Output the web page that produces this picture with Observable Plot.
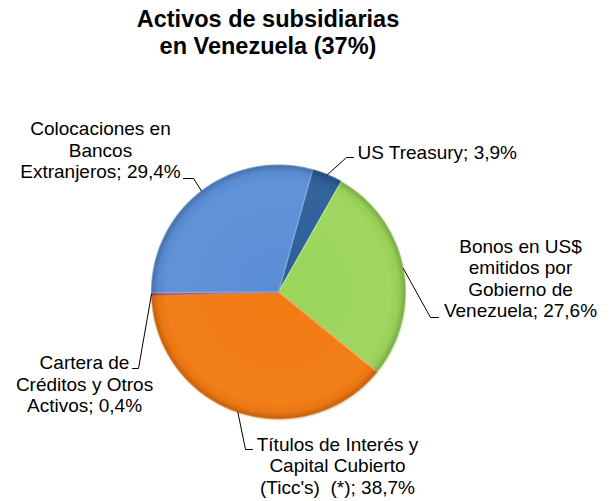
<!DOCTYPE html>
<html>
<head>
<meta charset="utf-8">
<script src="https://cdn.jsdelivr.net/npm/d3@7"></script>
<script src="https://cdn.jsdelivr.net/npm/@observablehq/plot@0.6"></script>
<style>
  html, body { margin: 0; padding: 0; background: #fff; }
  #wrap { width: 614px; height: 501px; position: relative; overflow: hidden; }
  #title { width: 536px; height: 60px; box-sizing: border-box; padding-top: 6.4px;
    text-align: center; font: bold 23.5px "Liberation Sans", Arial, sans-serif; line-height: 27px; color: #000; }
  svg text { white-space: pre; }
</style>
</head>
<body>
<div id="wrap">
  <div id="title">Activos de subsidiarias<br>en Venezuela (37%)</div>
  <div id="chart"></div>
</div>
<script>
// ---- data ----
const categories = [
  "US Treasury",
  "Bonos en US$ emitidos por Gobierno de Venezuela",
  "Títulos de Interés y Capital Cubierto (Ticc's) (*)",
  "Cartera de Créditos y Otros Activos",
  "Colocaciones en Bancos Extranjeros"
];
const values = [3.9, 27.6, 38.7, 0.4, 29.4];
const valueLabels = ["3,9%", "27,6%", "38,7%", "0,4%", "29,4%"];
const labelTexts = [
  "US Treasury; 3,9%",
  "Bonos en US$\nemitidos por\nGobierno de\nVenezuela; 27,6%",
  "Títulos de Interés y\nCapital Cubierto\n(Ticc's)  (*); 38,7%",
  "Cartera de\nCréditos y Otros\nActivos; 0,4%",
  "Colocaciones en\nBancos\nExtranjeros; 29,4%"
];
const colors = ["#2D5E99", "#9BD55A", "#F27A12", "#B8484A", "#5A8ED5"];
const rimColors = ["#4C7CB8", "#B5E884", "#F9A25A", "#D06A66", "#7FA9E2"];

// ---- layout (pixels) ----
const W = 614, H = 441;
const cx = 278, cy = 231.5, R = 127;
const startDeg = 15.6;
// label anchor, elbow and end of leader for each slice
const labelLayout = [
  {x: 357, y: 98.3, anchor: "start", ex: 346, ey: 97, tx: 353},
  {x: 520, y: 256.7, anchor: "middle", ex: 430, ey: 257, tx: 438},
  {x: 337, y: 433.3, anchor: "middle", ex: 245, ey: 389, tx: 252},
  {x: 84, y: 351.5, anchor: "middle", ex: 138, ey: 308, tx: 132},
  {x: 100, y: 117.5, anchor: "middle", ex: 193, ey: 118, tx: 183}
];

const pie = d3.pie().sort(null).value(d => d)
  .startAngle(startDeg * Math.PI / 180)
  .endAngle(startDeg * Math.PI / 180 + 2 * Math.PI);
const arcs = pie(values);

const slicePts = [];
arcs.forEach((a, i) => {
  slicePts.push({k: i, x: cx, y: cy});
  const n = Math.max(2, Math.ceil((a.endAngle - a.startAngle) / (Math.PI / 360)));
  for (let j = 0; j <= n; j++) {
    const t = a.startAngle + (a.endAngle - a.startAngle) * j / n;
    slicePts.push({k: i, x: cx + R * Math.sin(t), y: cy - R * Math.cos(t)});
  }
  slicePts.push({k: i, x: cx, y: cy});
});

const leaderPts = [];
arcs.forEach((a, i) => {
  const m = (a.startAngle + a.endAngle) / 2;
  const L = labelLayout[i];
  leaderPts.push({k: i, x: cx + R * Math.sin(m), y: cy - R * Math.cos(m)});
  leaderPts.push({k: i, x: L.ex, y: L.ey});
  leaderPts.push({k: i, x: L.tx, y: L.ey});
});

const labels = labelTexts.map((t, i) => ({text: t, ...labelLayout[i]}));

const svg = Plot.plot({
  width: W, height: H,
  margin: 0,
  x: {domain: [0, W], range: [0, W], axis: null},
  y: {domain: [0, H], range: [0, H], axis: null},
  style: {fontFamily: "'Liberation Sans', Arial, sans-serif", background: "transparent"},
  marks: [
    // subtle shadow
    Plot.dot([{x: cx + 1.5, y: cy + 2}], {x: "x", y: "y", r: R + 1, fill: "url(#shadow)", stroke: "none"}),
    Plot.line(slicePts, {x: "x", y: "y", z: "k", fill: d => colors[d.k], stroke: d => rimColors[d.k],
      strokeWidth: 1.2, strokeLinejoin: "round", curve: "linear"}),
    Plot.dot([{x: cx, y: cy}], {x: "x", y: "y", r: R, fill: "url(#rim)", stroke: "none"}),
    Plot.line(leaderPts, {x: "x", y: "y", z: "k", stroke: "#000", strokeWidth: 1, curve: "linear"}),
    ...["start", "middle"].map(anc =>
      Plot.text(labels.filter(d => d.anchor === anc), {
        x: "x", y: "y", text: "text", textAnchor: anc, lineAnchor: "bottom",
        fontSize: 19, lineHeight: 1.13, fill: "#000"
      }))
  ]
});

const ns = "http://www.w3.org/2000/svg";
const defs = document.createElementNS(ns, "defs");
defs.innerHTML = `
  <radialGradient id="rim" cx="50%" cy="50%" r="50%">
    <stop offset="0%" stop-color="#fff" stop-opacity="0"/>
    <stop offset="88%" stop-color="#fff" stop-opacity="0.04"/>
    <stop offset="95%" stop-color="#000" stop-opacity="0.03"/>
    <stop offset="100%" stop-color="#000" stop-opacity="0.22"/>
  </radialGradient>
  <radialGradient id="shadow" cx="50%" cy="50%" r="50%">
    <stop offset="95%" stop-color="#000" stop-opacity="0.18"/>
    <stop offset="100%" stop-color="#000" stop-opacity="0"/>
  </radialGradient>`;
svg.insertBefore(defs, svg.firstChild);
document.getElementById("chart").appendChild(svg);
</script>
</body>
</html>
